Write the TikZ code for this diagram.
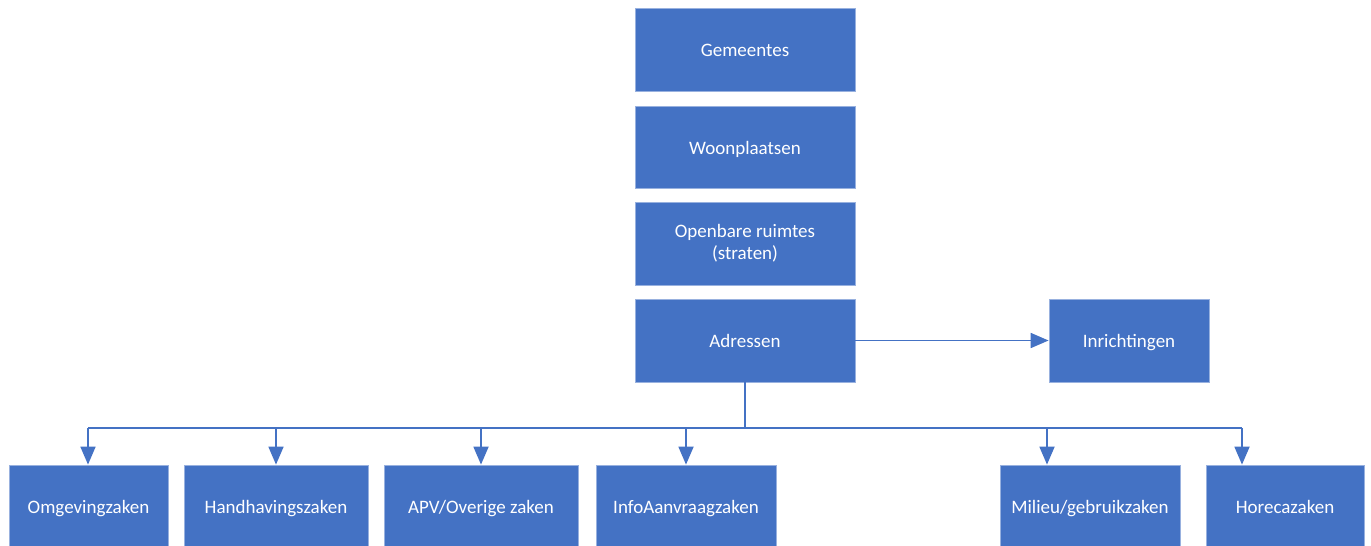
\documentclass[tikz,border=0pt]{standalone}
\usepackage{fontspec}
\setmainfont{Carlito}
\usetikzlibrary{arrows.meta}
\definecolor{boxblue}{HTML}{4472C4}
\begin{document}
\begin{tikzpicture}[x=1pt,y=-1pt,
  box/.style={rectangle, fill=boxblue, draw=boxblue!55!white, line width=0.8pt,
    text=white, font=\fontsize{19}{22}\selectfont, align=center, inner sep=0pt},
  one/.style={text height=15pt, text depth=1pt},
  link/.style={draw=boxblue, line width=1.8pt},
  arr/.style={link, -{Triangle[length=18pt,width=15pt]}}]
\useasboundingbox (0,0) rectangle (1371,546);
\node[box, one, minimum width=220pt, minimum height=83pt] (G) at (745,49.5) {Gemeentes};
\node[box, one, minimum width=220pt, minimum height=82pt] (W) at (745,147) {Woonplaatsen};
\node[box, minimum width=220pt, minimum height=83pt] (O) at (745,243.5) {Openbare ruimtes\\(straten)};
\node[box, one, minimum width=220pt, minimum height=83pt] (A) at (745,340.5) {Adressen};
\node[box, one, minimum width=160pt, minimum height=83pt] (I) at (1129,340.5) {Inrichtingen};
\node[box, one, minimum width=159pt, minimum height=83pt] (Om) at (88.5,506.5) {Omgevingzaken};
\node[box, one, minimum width=184pt, minimum height=83pt] (Ha) at (276,506.5) {Handhavingszaken};
\node[box, one, minimum width=194pt, minimum height=83pt] (AP) at (481,506.5) {APV/Overige zaken};
\node[box, one, minimum width=180pt, minimum height=83pt] (In) at (686,506.5) {InfoAanvraagzaken};
\node[box, one, minimum width=180pt, minimum height=83pt] (Mi) at (1090,506.5) {Milieu/gebruikzaken};
\node[box, one, minimum width=158pt, minimum height=83pt] (Ho) at (1285,506.5) {Horecazaken};
\coordinate (busL) at (88,428);
\coordinate (busR) at (1242,428);
\coordinate (bM) at (1047,428);
\draw[arr] (A.east) -- (I.west);
\draw[link] (A.south) -- (A.south |- busL);
\draw[link] (busL) -- (busR);
\draw[arr] (busL) -- (busL |- Om.north);
\draw[arr] (Ha.north |- busL) -- (Ha.north);
\draw[arr] (AP.north |- busL) -- (AP.north);
\draw[arr] (In.north |- busL) -- (In.north);
\draw[arr] (bM) -- (bM |- Mi.north);
\draw[arr] (busR) -- (busR |- Ho.north);
\end{tikzpicture}
\end{document}
